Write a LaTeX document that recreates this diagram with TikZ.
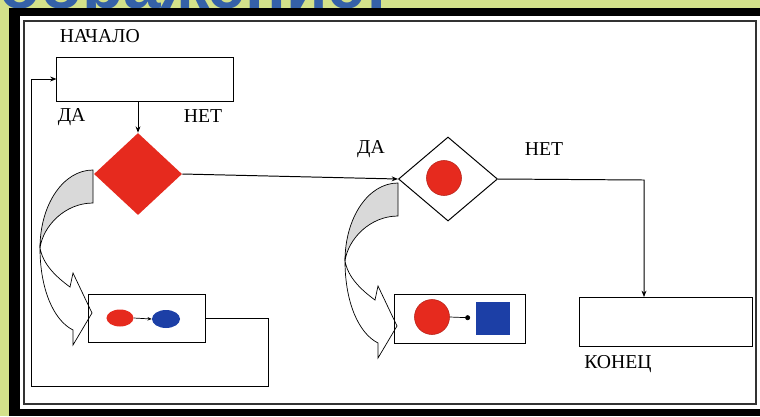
\documentclass[tikz,border=0pt]{standalone}
\usepackage{fontspec}
\setmainfont{Liberation Serif}
\newfontfamily\headfont{Liberation Sans}
\usepackage{xcolor}
\usetikzlibrary{arrows.meta, positioning, shapes.geometric}

\definecolor{slidegreen}{HTML}{D3E18A}
\definecolor{headblue}{HTML}{3561A8}
\definecolor{flowred}{HTML}{E62A1E}
\definecolor{flowblue}{HTML}{1C3FA6}
\definecolor{backgray}{HTML}{D9D9D9}

\begin{document}
\begin{tikzpicture}[
  x=0.025cm, y=-0.025cm,
  box/.style={rectangle, draw, line width=0.7pt, inner sep=0pt},
  lbl/.style={inner sep=0pt, font=\fontsize{14}{16}\selectfont},
  flow/.style={line width=0.7pt},
  >={Stealth[length=4.5pt, width=3.5pt]},
  bentarrow/.pic={
    \filldraw[fill=backgray, line width=0.5pt] (0,0) .. controls (-30,0) and (-53,35) .. (-53,78)
      .. controls (-50,56) and (-28,33) .. (0,33) -- cycle;
    \filldraw[fill=white, line width=0.5pt] (-53,78) .. controls (-53,118) and (-40,150) .. (-20,160)
      -- (-20,175) -- (-1,143) -- (-20,103) -- (-23,117) .. controls (-38,106) and (-50,94) .. (-53,78) -- cycle;
  }
]
\clip (0,0) rectangle (760,416);
% slide background and frame
\fill[slidegreen] (0,0) rectangle (760,416);
\node[headblue, font=\headfont\bfseries\fontsize{48}{50}\selectfont, anchor=base east, inner sep=0pt] (head) at (388,8) {изображение:};
\fill[black] (9,8) rectangle (760,416);
\fill[white] (20,16) rectangle (760,409);
\draw[line width=0.9pt, black!80] (24,21) rectangle (756,404);

% bent arrows
\pic at (93,170) {bentarrow};
\pic at (398,183) {bentarrow};

\node[box, minimum width=4.4cm, minimum height=1.1cm] (start) at (145,79) {};
\node[lbl, above right=0.35cm and 0.075cm of start.north west] (startlbl) {НАЧАЛО};
\node[lbl, below right=0.175cm and 0.025cm of start.south west] (yes1) {ДА};
\node[lbl, below left=0.2cm and 0.275cm of start.south east] (no1) {НЕТ};

\node[diamond, fill=flowred, inner sep=0pt, minimum width=2.2cm, minimum height=2.05cm] (cond1) at (138,174) {};
\node[diamond, draw, fill=white, line width=0.7pt, inner sep=0pt, minimum width=2.475cm, minimum height=2.1cm] (cond2) at (448,179) {};
\node[circle, fill=flowred, draw=flowred!80!black, inner sep=0pt, minimum size=0.875cm] (dot2) at (444,178) {};
\node[lbl] (yes2) at (371,149) {ДА};
\node[lbl] (no2) at (544,149) {НЕТ};

\node[box, minimum width=2.9cm, minimum height=1.2cm] (act1) at (147,318) {};
\node[ellipse, fill=flowred, inner sep=0pt, minimum width=0.675cm, minimum height=0.425cm] (red1) at (120,318) {};
\node[ellipse, fill=flowblue, inner sep=0pt, minimum width=0.7cm, minimum height=0.45cm] (blue1) at (166,319) {};

\node[box, minimum width=3.275cm, minimum height=1.225cm] (act2) at (460,319) {};
\node[circle, fill=flowred, draw=flowred!80!black, inner sep=0pt, minimum size=0.875cm] (red2) at (432,317) {};
\node[rectangle, fill=flowblue, inner sep=0pt, minimum width=0.85cm, minimum height=0.825cm] (blue2) at (493,318) {};

\node[box, minimum width=4.325cm, minimum height=1.225cm] (stop) at (666,322) {};
\node[lbl, below right=0.2cm and 0.125cm of stop.south west] (stoplbl) {КОНЕЦ};

\coordinate (turn) at (644,180);
\coordinate (back) at (268,386);
\coordinate (backL) at (31,386);

\draw[flow, ->] (cond1.north |- start.south) -- (cond1.north);
\draw[flow, ->] (cond1.east) -- (cond2.west);
\draw[flow, ->] (cond2.east) -- (turn) -- (turn |- stop.north);
\draw[flow, ->] (act1.east) -| (back) -- (backL) |- (start.west);
\draw[line width=0.5pt, -{Stealth[length=3pt, width=2.5pt]}] (red1.east) -- (blue1.west);
\draw[line width=0.5pt, -{Circle[length=3.5pt]}, shorten >=4pt] (red2.east) -- (blue2.west);
\end{tikzpicture}
\end{document}
